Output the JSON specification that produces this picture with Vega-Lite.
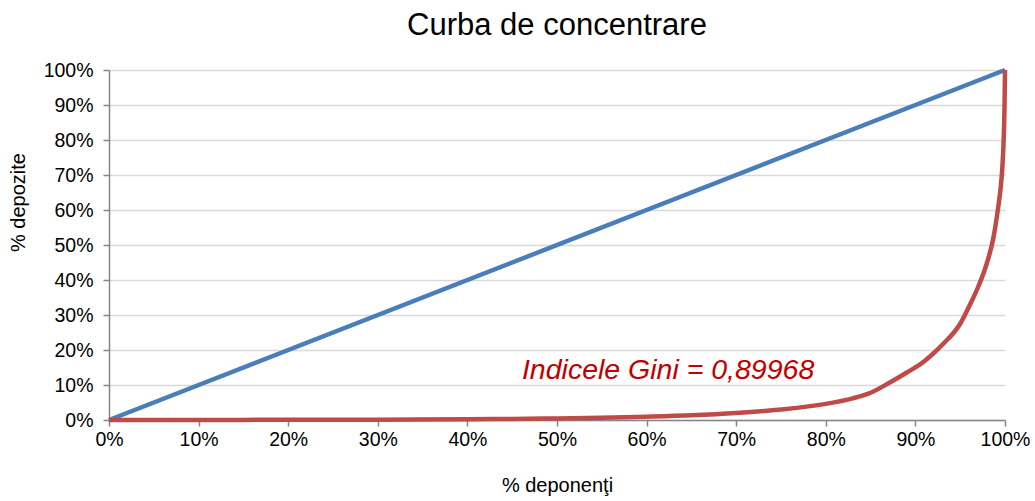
{
  "$schema": "https://vega.github.io/schema/vega-lite/v6.json",
  "autosize": "none",
  "padding": {"left": 109, "top": 70, "right": 30, "bottom": 81},
  "width": 896,
  "height": 350,
  "background": "white",
  "title": {"text": "Curba de concentrare", "font": "Liberation Sans", "fontSize": 31, "fontWeight": "normal", "color": "#000000", "offset": 18, "anchor": "middle"},
  "config": {
    "view": {"stroke": null},
    "font": "Liberation Sans"
  },
  "layer": [
    {
      "data": {"values": [{"x": 0, "y": 0}, {"x": 1, "y": 1}]},
      "mark": {"type": "line", "color": "#4A7EBB", "strokeWidth": 4.5, "strokeCap": "butt"},
      "encoding": {
        "x": {"field": "x", "type": "quantitative", "scale": {"domain": [0, 1], "nice": false},
          "axis": {"title": "% deponenţi", "format": ".0%", "values": [0,0.1,0.2,0.3,0.4,0.5,0.6,0.7,0.8,0.9,1], "tickCount": 11, "grid": false, "labelOverlap": false,
            "domainColor": "#868686", "domainWidth": 1.5, "tickColor": "#868686", "tickSize": 6, "tickWidth": 1.5,
            "labelFont": "Liberation Sans", "labelFontSize": 19.5, "labelColor": "#000000", "labelPadding": 4, "labelFlush": false,
            "titleFont": "Liberation Sans", "titleFontSize": 20, "titleFontWeight": "normal", "titleColor": "#000000", "titlePadding": 27}},
        "y": {"field": "y", "type": "quantitative", "scale": {"domain": [0, 1], "nice": false},
          "axis": {"title": "% depozite", "format": ".0%", "values": [0,0.1,0.2,0.3,0.4,0.5,0.6,0.7,0.8,0.9,1], "tickCount": 11, "grid": true, "gridColor": "#D9D9D9", "gridWidth": 1.5, "labelOverlap": false,
            "domainColor": "#868686", "domainWidth": 1.5, "tickColor": "#868686", "tickSize": 6, "tickWidth": 1.5,
            "labelFont": "Liberation Sans", "labelFontSize": 19.5, "labelColor": "#000000", "labelPadding": 10, "labelFlush": false,
            "titleFont": "Liberation Sans", "titleFontSize": 20, "titleFontWeight": "normal", "titleColor": "#000000",
            "titleX": -91, "titleY": 132, "titleAngle": -90, "titleBaseline": "middle", "titleAlign": "center"}}
      }
    },
    {
      "data": {"values": [
        {"x": 0, "y": 0}, {"x": 0.1, "y": 0.0002}, {"x": 0.2, "y": 0.0005}, {"x": 0.3, "y": 0.001}, {"x": 0.4, "y": 0.002},
        {"x": 0.45, "y": 0.003}, {"x": 0.5, "y": 0.0045}, {"x": 0.55, "y": 0.0065}, {"x": 0.6, "y": 0.0095}, {"x": 0.65, "y": 0.0135},
        {"x": 0.7, "y": 0.02}, {"x": 0.75, "y": 0.03}, {"x": 0.8, "y": 0.046}, {"x": 0.83, "y": 0.062}, {"x": 0.85, "y": 0.078},
        {"x": 0.87, "y": 0.105}, {"x": 0.89, "y": 0.135}, {"x": 0.91, "y": 0.168}, {"x": 0.92, "y": 0.19}, {"x": 0.93, "y": 0.215},
        {"x": 0.95, "y": 0.275}, {"x": 0.96, "y": 0.325}, {"x": 0.97, "y": 0.38}, {"x": 0.98, "y": 0.45}, {"x": 0.987, "y": 0.52},
        {"x": 0.992, "y": 0.6}, {"x": 0.995, "y": 0.66}, {"x": 0.997, "y": 0.72}, {"x": 0.9985, "y": 0.8}, {"x": 0.9995, "y": 0.9},
        {"x": 1, "y": 1}
      ]},
      "mark": {"type": "line", "color": "#BE4B48", "strokeWidth": 4.5, "interpolate": "monotone", "strokeCap": "butt"},
      "encoding": {
        "x": {"field": "x", "type": "quantitative"},
        "y": {"field": "y", "type": "quantitative"}
      }
    },
    {
      "data": {"values": [{"x": 0.624, "y": 0.143, "label": "Indicele Gini = 0,89968"}]},
      "mark": {"type": "text", "font": "Liberation Sans", "fontSize": 28.5, "fontStyle": "italic", "color": "#C00000", "align": "center", "baseline": "middle"},
      "encoding": {
        "x": {"field": "x", "type": "quantitative"},
        "y": {"field": "y", "type": "quantitative"},
        "text": {"field": "label"}
      }
    }
  ]
}
